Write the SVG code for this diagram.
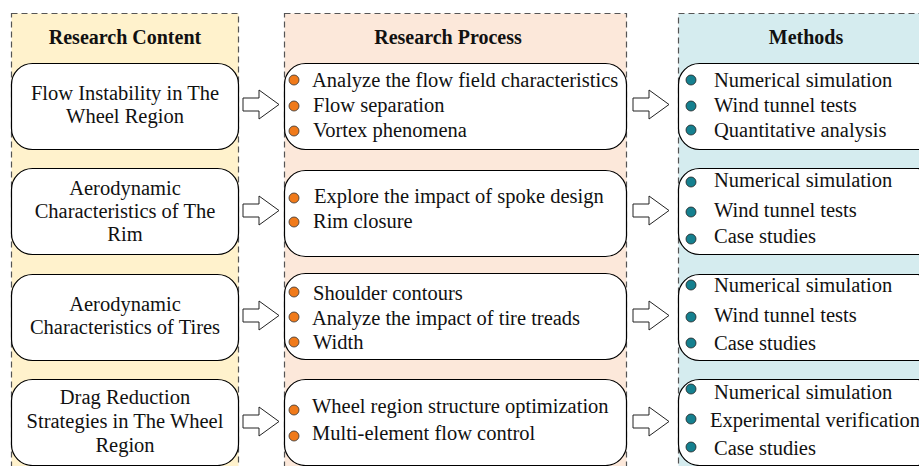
<svg xmlns="http://www.w3.org/2000/svg" width="919" height="466" viewBox="0 0 919 466">
<style>
.panel{stroke:#555;stroke-width:1.2;stroke-dasharray:6,4}
.box{fill:#fff;stroke:#000;stroke-width:1.2}
.t{font-family:"Liberation Serif","Times New Roman",serif;font-size:20.5px;fill:#111}
.c{text-anchor:middle}
.h{font-family:"Liberation Serif","Times New Roman",serif;font-size:20px;font-weight:bold;fill:#111;text-anchor:middle}
.bo{fill:#F07A1A;stroke:#333;stroke-width:0.8}
.bt{fill:#15808F;stroke:#222;stroke-width:0.8}
.arr{fill:#fff;stroke:#222;stroke-width:1}
</style>
<rect width="919" height="466" fill="#fff"/>
<g id="panels">
<rect class="panel" x="11.5" y="13.5" width="227" height="470" fill="#FFF2CC"/>
<rect class="panel" x="284.5" y="13.5" width="342" height="470" fill="#FCE8DA"/>
<rect class="panel" x="678.5" y="13.5" width="260" height="470" fill="#D5ECEF"/>
<text class="h" x="125" y="44">Research Content</text>
<text class="h" x="448" y="44">Research Process</text>
<text class="h" x="806" y="44">Methods</text>
</g>
<g id="content1">
<rect class="box" x="11.5" y="63.5" width="227" height="86" rx="21"/>
<text class="t c" x="125" y="100">Flow Instability in The</text>
<text class="t c" x="125" y="123">Wheel Region</text>
</g>
<g id="content2">
<rect class="box" x="11.5" y="168.5" width="227" height="86" rx="21"/>
<text class="t c" x="125" y="195">Aerodynamic</text>
<text class="t c" x="125" y="218">Characteristics of The</text>
<text class="t c" x="125" y="241">Rim</text>
</g>
<g id="content3">
<rect class="box" x="11.5" y="274.5" width="227" height="86" rx="21"/>
<text class="t c" x="125" y="311">Aerodynamic</text>
<text class="t c" x="125" y="334">Characteristics of Tires</text>
</g>
<g id="content4">
<rect class="box" x="11.5" y="379.5" width="227" height="86" rx="21"/>
<text class="t c" x="125" y="404">Drag Reduction</text>
<text class="t c" x="125" y="428">Strategies in The Wheel</text>
<text class="t c" x="125" y="452">Region</text>
</g>
<g id="process1">
<rect class="box" x="284.5" y="63.5" width="342" height="86" rx="21"/>
<circle class="bo" cx="294" cy="80" r="5"/><circle class="bo" cx="294" cy="106" r="5"/><circle class="bo" cx="294" cy="131" r="5"/>
<text class="t" x="312" y="87">Analyze the flow field characteristics</text>
<text class="t" x="313" y="112">Flow separation</text>
<text class="t" x="313" y="137">Vortex phenomena</text>
</g>
<g id="process2">
<rect class="box" x="284.5" y="170.5" width="342" height="86" rx="21"/>
<circle class="bo" cx="294" cy="198" r="5"/><circle class="bo" cx="294" cy="222" r="5"/>
<text class="t" x="314" y="203">Explore the impact of spoke design</text>
<text class="t" x="313" y="228">Rim closure</text>
</g>
<g id="process3">
<rect class="box" x="284.5" y="273.5" width="342" height="86" rx="21"/>
<circle class="bo" cx="294" cy="292" r="5"/><circle class="bo" cx="294" cy="317" r="5"/><circle class="bo" cx="294" cy="342" r="5"/>
<text class="t" x="313" y="300">Shoulder contours</text>
<text class="t" x="312" y="325">Analyze the impact of tire treads</text>
<text class="t" x="313" y="349">Width</text>
</g>
<g id="process4">
<rect class="box" x="284.5" y="379.5" width="342" height="86" rx="21"/>
<circle class="bo" cx="294" cy="410" r="5"/><circle class="bo" cx="294" cy="436" r="5"/>
<text class="t" x="312" y="413">Wheel region structure optimization</text>
<text class="t" x="312" y="440">Multi-element flow control</text>
</g>
<g id="methods1">
<rect class="box" x="678.5" y="63.5" width="260" height="86" rx="21"/>
<circle class="bt" cx="691" cy="80" r="5"/><circle class="bt" cx="691" cy="106" r="5"/><circle class="bt" cx="691" cy="130" r="5"/>
<text class="t" x="714" y="87">Numerical simulation</text>
<text class="t" x="714" y="112">Wind tunnel tests</text>
<text class="t" x="714" y="137">Quantitative analysis</text>
</g>
<g id="methods2">
<rect class="box" x="678.5" y="168.5" width="260" height="86" rx="21"/>
<circle class="bt" cx="691" cy="182" r="5"/><circle class="bt" cx="691" cy="212" r="5"/><circle class="bt" cx="691" cy="239" r="5"/>
<text class="t" x="714" y="187">Numerical simulation</text>
<text class="t" x="714" y="217">Wind tunnel tests</text>
<text class="t" x="714" y="243">Case studies</text>
</g>
<g id="methods3">
<rect class="box" x="678.5" y="274.5" width="260" height="86" rx="21"/>
<circle class="bt" cx="691" cy="285" r="5"/><circle class="bt" cx="691" cy="317" r="5"/><circle class="bt" cx="691" cy="343" r="5"/>
<text class="t" x="714" y="292">Numerical simulation</text>
<text class="t" x="714" y="322">Wind tunnel tests</text>
<text class="t" x="714" y="350">Case studies</text>
</g>
<g id="methods4">
<rect class="box" x="678.5" y="379.5" width="260" height="86" rx="21"/>
<circle class="bt" cx="691" cy="389" r="5"/><circle class="bt" cx="691" cy="419" r="5"/><circle class="bt" cx="691" cy="447" r="5"/>
<text class="t" x="714" y="399">Numerical simulation</text>
<text class="t" x="710" y="427">Experimental verification</text>
<text class="t" x="714" y="455">Case studies</text>
</g>
<g id="connectors">
<path class="arr" d="M243,98 H259 V90 L279,104.5 L259,119 V111 H243 Z"/>
<path class="arr" d="M243,204 H259 V196 L279,210.5 L259,225 V217 H243 Z"/>
<path class="arr" d="M243,309 H259 V301 L279,315.5 L259,330 V322 H243 Z"/>
<path class="arr" d="M243,415 H259 V407 L279,421.5 L259,436 V428 H243 Z"/>
<path class="arr" d="M633,98 H649 V90 L669,104.5 L649,119 V111 H633 Z"/>
<path class="arr" d="M633,204 H649 V196 L669,210.5 L649,225 V217 H633 Z"/>
<path class="arr" d="M633,309 H649 V301 L669,315.5 L649,330 V322 H633 Z"/>
<path class="arr" d="M633,415 H649 V407 L669,421.5 L649,436 V428 H633 Z"/>
</g>
</svg>
